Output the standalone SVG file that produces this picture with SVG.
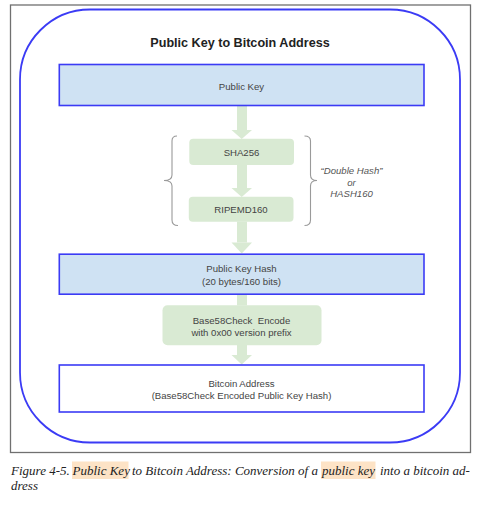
<svg xmlns="http://www.w3.org/2000/svg" width="481" height="505" viewBox="0 0 481 505">
<defs>
<style>
.lbl{font-family:"Liberation Sans",Arial,sans-serif;font-size:9.6px;fill:#444;text-anchor:middle}
.note{font-family:"Liberation Sans",Arial,sans-serif;font-size:9.6px;fill:#555;font-style:italic;text-anchor:middle}
.title{font-family:"Liberation Sans",Arial,sans-serif;font-size:12.6px;font-weight:bold;fill:#222;text-anchor:middle}
.cap{font-family:"Liberation Serif","Times New Roman",serif;font-size:13px;font-style:italic;fill:#222}
.bluebox{stroke:#3b3bf5;stroke-width:1.6}
.green{fill:#d9ead3}
.brace{fill:none;stroke:#9a9a9a;stroke-width:1.1}
</style>
</defs>
<rect width="481" height="505" fill="#fff"/>
<rect x="10.5" y="5" width="460" height="447.5" fill="none" stroke="#707070" stroke-width="1.3"/>
<rect x="20" y="9.5" width="440" height="433" rx="70" ry="70" fill="none" stroke="#3b3bf5" stroke-width="1.8"/>
<text class="title" x="240" y="47">Public Key to Bitcoin Address</text>

<g id="connectors">
<rect class="green" x="237" y="105" width="10" height="25"/>
<polygon class="green" points="231.5,130 252,130 241.7,139"/>
<rect class="green" x="237" y="165" width="10" height="23"/>
<polygon class="green" points="231.5,188 252,188 241.7,197"/>
<rect class="green" x="237" y="221.5" width="10" height="21"/>
<polygon class="green" points="231.5,242.5 252,242.5 241.7,253.5"/>
<rect class="green" x="237" y="294" width="10" height="11.5"/>
<rect class="green" x="237" y="345" width="10" height="10"/>
<polygon class="green" points="231.5,355 252,355 241.7,364.5"/>
<path class="brace" d="M177,136 Q172,136 172,141 L172,175 Q172,180.5 164,180.5 Q172,180.5 172,186 L172,220 Q172,225.5 178,225.5"/>
<path class="brace" d="M304.5,136 Q310.5,136 310.5,141 L310.5,175 Q310.5,180.5 317,180.5 Q310.5,180.5 310.5,186 L310.5,220 Q310.5,225.5 304.5,225.5"/>
</g>

<g id="public-key">
<rect class="bluebox" x="59.3" y="64.5" width="364.7" height="41" fill="#cfe2f3"/>
<text class="lbl" x="241.5" y="89.5">Public Key</text>
</g>
<g id="sha256">
<rect class="green" x="189.3" y="138.8" width="104.7" height="26.2" rx="4"/>
<text class="lbl" x="241.5" y="155.5">SHA256</text>
</g>
<g id="ripemd160">
<rect class="green" x="188.8" y="196.7" width="104.7" height="25" rx="4"/>
<text class="lbl" x="241" y="212.8">RIPEMD160</text>
</g>
<g id="double-hash-note">
<text class="note" x="351.5" y="173.5">“Double Hash”</text>
<text class="note" x="351.5" y="185.5">or</text>
<text class="note" x="351.5" y="197">HASH160</text>
</g>
<g id="public-key-hash">
<rect class="bluebox" x="59.3" y="254.2" width="364.7" height="40" fill="#cfe2f3"/>
<text class="lbl" x="241.5" y="272.3">Public Key Hash</text>
<text class="lbl" x="241.5" y="284.8">(20 bytes/160 bits)</text>
</g>
<g id="base58check-encode">
<rect class="green" x="162.5" y="305.3" width="159" height="40" rx="5"/>
<text class="lbl" x="241.5" y="323.5" xml:space="preserve">Base58Check  Encode</text>
<text class="lbl" x="241.5" y="335.8">with 0x00 version prefix</text>
</g>
<g id="bitcoin-address">
<rect class="bluebox" x="59.3" y="365" width="364.7" height="47" fill="#fff"/>
<text class="lbl" x="241.5" y="386.8">Bitcoin Address</text>
<text class="lbl" x="241.5" y="399.2">(Base58Check Encoded Public Key Hash)</text>
</g>

<g id="caption">
<rect x="72" y="461.5" width="56.5" height="17.5" fill="#fde3c6"/>
<rect x="321" y="461.5" width="54.5" height="17.5" fill="#fde3c6"/>
<text class="cap" y="474.5"><tspan x="11">Figure 4-5.</tspan> <tspan x="72.5">Public Key</tspan> <tspan x="132">to Bitcoin Address: Conversion of a</tspan> <tspan x="322">public key</tspan> <tspan x="380">into a bitcoin ad-</tspan></text>
<text class="cap" x="11" y="489.5">dress</text>
</g>
</svg>
